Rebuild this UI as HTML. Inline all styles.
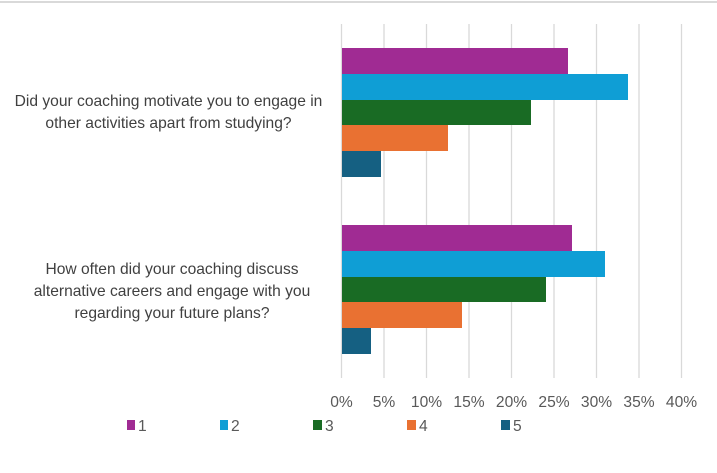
<!DOCTYPE html>
<html><head><style>
body{margin:0;width:717px;height:468px;background:#fff;overflow:hidden;font-family:"Liberation Sans",sans-serif;}
</style></head><body>
<svg width="717" height="468" xmlns="http://www.w3.org/2000/svg" font-family="Liberation Sans, sans-serif">
<rect x="0" y="1" width="717" height="2" fill="#d9d9d9"/>
<g stroke="#d9d9d9" stroke-width="1.3">
<line x1="341.5" y1="24" x2="341.5" y2="378"/>
<line x1="384" y1="24" x2="384" y2="378"/>
<line x1="426.5" y1="24" x2="426.5" y2="378"/>
<line x1="469" y1="24" x2="469" y2="378"/>
<line x1="511.5" y1="24" x2="511.5" y2="378"/>
<line x1="554" y1="24" x2="554" y2="378"/>
<line x1="596.5" y1="24" x2="596.5" y2="378"/>
<line x1="639" y1="24" x2="639" y2="378"/>
<line x1="681.5" y1="24" x2="681.5" y2="378"/>
</g>
<rect x="342" y="48" width="226" height="26" fill="#a02b93"/>
<rect x="342" y="74" width="286" height="26" fill="#0f9ed5"/>
<rect x="342" y="100" width="189" height="25" fill="#196b24"/>
<rect x="342" y="125" width="106" height="26" fill="#e97132"/>
<rect x="342" y="151" width="39" height="26" fill="#156082"/>
<rect x="342" y="225" width="230" height="26" fill="#a02b93"/>
<rect x="342" y="251" width="263" height="26" fill="#0f9ed5"/>
<rect x="342" y="277" width="204" height="25" fill="#196b24"/>
<rect x="342" y="302" width="120" height="26" fill="#e97132"/>
<rect x="342" y="328" width="29" height="26" fill="#156082"/>
<g font-size="15.6" fill="#404040" text-anchor="middle">
<text x="168.5" y="106">Did your coaching motivate you to engage in</text>
<text x="168.5" y="128">other activities apart from studying?</text>
<text x="172" y="274">How often did your coaching discuss</text>
<text x="172" y="296">alternative careers and engage with you</text>
<text x="172" y="318">regarding your future plans?</text>
</g>
<g font-size="15.6" fill="#595959" text-anchor="middle">
<text x="341.5" y="407">0%</text><text x="384" y="407">5%</text><text x="426.5" y="407">10%</text>
<text x="469" y="407">15%</text><text x="511.5" y="407">20%</text><text x="554" y="407">25%</text>
<text x="596.5" y="407">30%</text><text x="639" y="407">35%</text><text x="681.5" y="407">40%</text>
</g>
<g font-size="15.6" fill="#595959">
<rect x="127" y="420" width="8" height="10" fill="#a02b93"/><text x="138" y="431">1</text>
<rect x="220" y="420" width="8" height="10" fill="#0f9ed5"/><text x="231" y="431">2</text>
<rect x="313" y="420" width="9" height="10" fill="#196b24"/><text x="325" y="431">3</text>
<rect x="407" y="420" width="9" height="10" fill="#e97132"/><text x="419" y="431">4</text>
<rect x="501" y="420" width="9" height="10" fill="#156082"/><text x="513" y="431">5</text>
</g>
</svg>
</body></html>
